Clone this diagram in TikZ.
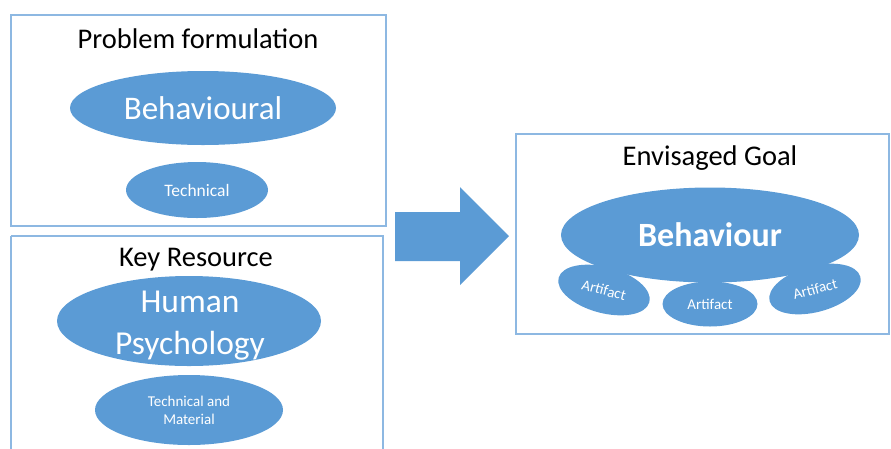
\documentclass[tikz,border=0pt]{standalone}
\usepackage{fontspec}
\setmainfont{Carlito}
\usetikzlibrary{shapes.geometric}
\definecolor{ofblue}{HTML}{5B9BD5}
\definecolor{bdblue}{HTML}{8DB8E2}
\begin{document}
\begin{tikzpicture}[x=1pt,y=-1pt,
  panel/.style={draw=bdblue,line width=1.2pt},
  blob/.style={ellipse,fill=ofblue,draw=none,inner sep=0pt,text=white,align=center},
  ttl/.style={font=\fontsize{28.5}{32}\selectfont,text=black,inner sep=0pt}]
\useasboundingbox (0,0) rectangle (891,448);
% panels
\draw[panel] (11,15) rectangle (386,226);
\draw[panel] (11,236) -- (383,236) -- (383,452) (11,236) -- (11,452);
\draw[panel] (516,134) rectangle (889,334);
% titles
\node[ttl] (t1) at (198,39) {Problem formulation};
\node[ttl] (t2) at (196,260) {Key Resource};
\node[ttl] (t3) at (710,158) {Envisaged Goal};
% left ellipses
\node[blob,minimum width=266pt,minimum height=74pt,font=\fontsize{33}{36}\selectfont] (beh) at (203,108) {Behavioural};
\node[blob,minimum width=142pt,minimum height=56pt,font=\fontsize{17.5}{20}\selectfont] (tech) at (197,190) {Technical};
\node[blob,minimum width=264pt,minimum height=90pt] (hp) at (189,321) {};
\node[font=\fontsize{33.5}{42}\selectfont,text=white,align=center,inner sep=0pt] (hpt) at (190,326) {Human\\Psychology};
\node[blob,minimum width=188pt,minimum height=70pt,font=\fontsize{15}{18}\selectfont] (tm) at (189,410) {Technical and\\Material};
% arrow
\fill[ofblue] (395,212) -- (460,212) -- (460,187) -- (509,236) -- (460,285) -- (460,261) -- (395,261) -- cycle;
% right ellipses
\node[blob,minimum width=298pt,minimum height=95pt,font=\fontsize{34}{38}\selectfont\bfseries] (bhv) at (710,235) {Behaviour};
\node[blob,minimum width=94pt,minimum height=46pt,rotate=-15,font=\fontsize{15}{18}\selectfont] (a1) at (604,290) {Artifact};
\node[blob,minimum width=95pt,minimum height=45pt,font=\fontsize{15}{18}\selectfont] (a2) at (710,304) {Artifact};
\node[blob,minimum width=94pt,minimum height=46pt,rotate=15,font=\fontsize{15}{18}\selectfont] (a3) at (815,289) {Artifact};
\end{tikzpicture}
\end{document}
